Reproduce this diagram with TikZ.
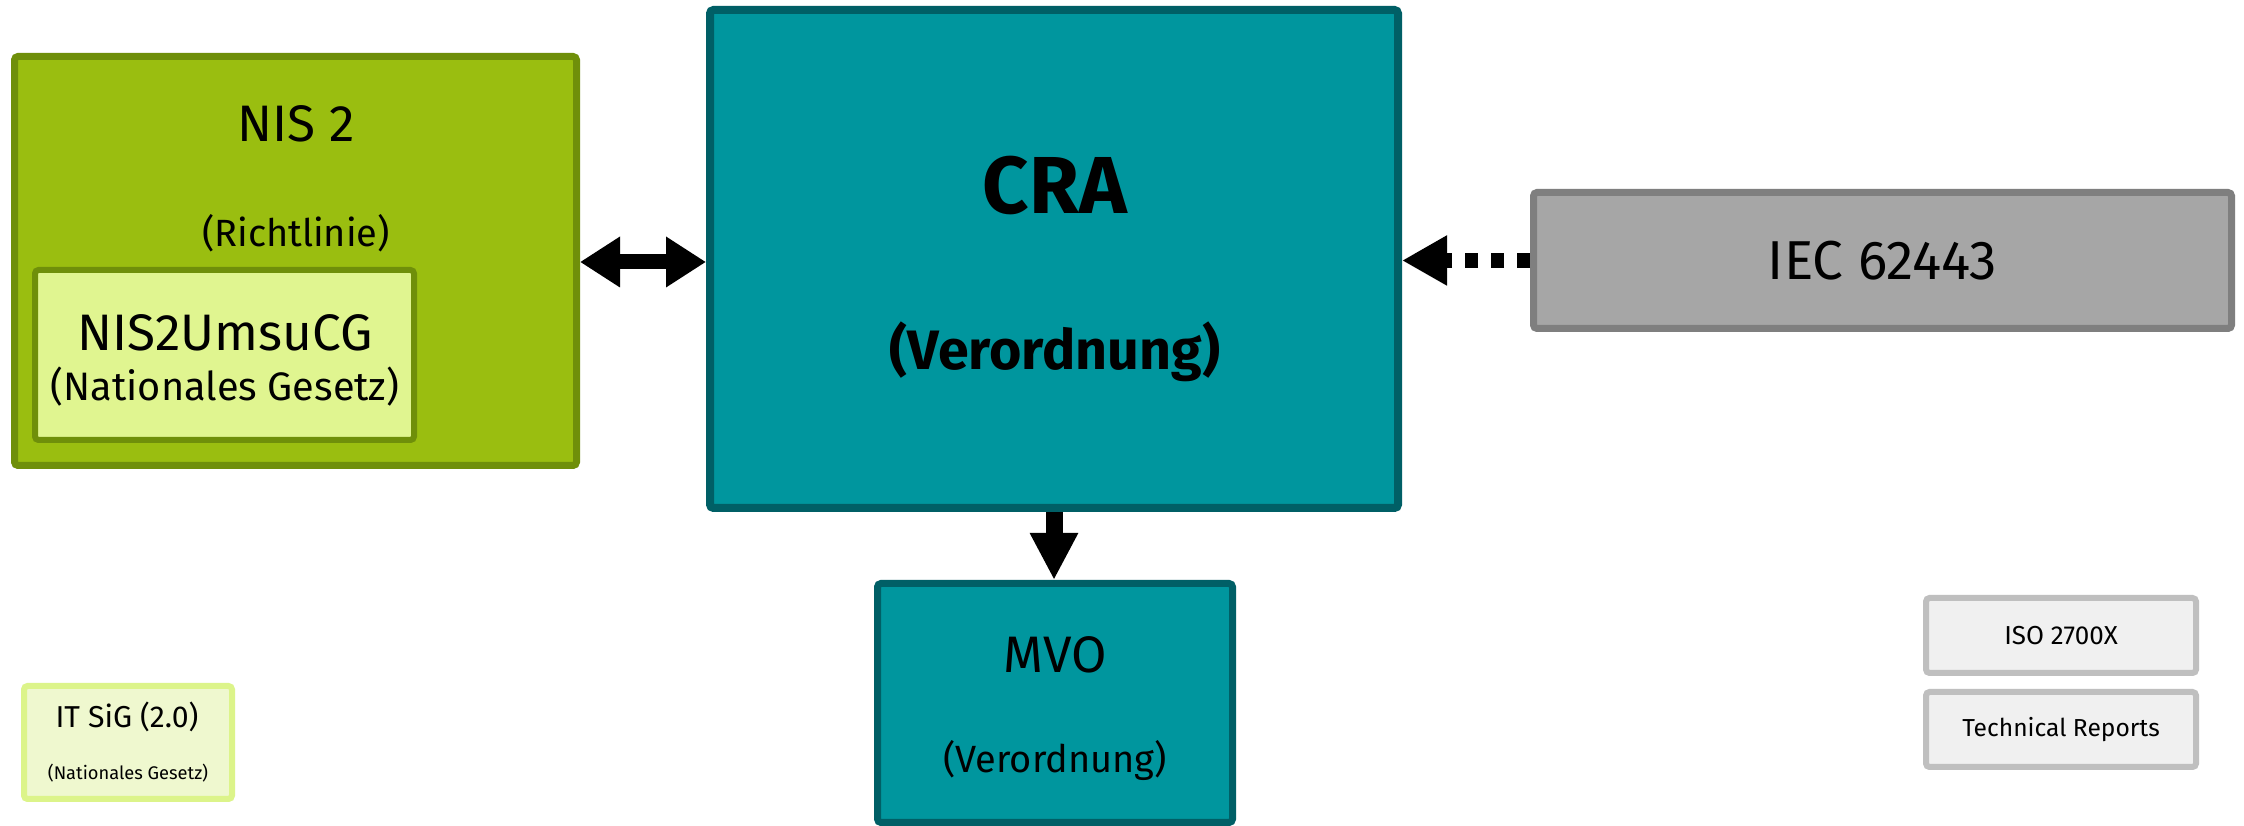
\documentclass[tikz,border=0pt]{standalone}
\usepackage{fontspec}
\setmainfont{Fira Sans}
\usetikzlibrary{arrows.meta}
\definecolor{nisgreen}{HTML}{9ABE10}
\definecolor{nisdark}{HTML}{6F8F0A}
\definecolor{umsufill}{HTML}{E0F590}
\definecolor{crateal}{HTML}{00969E}
\definecolor{cradark}{HTML}{005F66}
\definecolor{iecgray}{HTML}{A6A6A6}
\definecolor{iecdark}{HTML}{7F7F7F}
\definecolor{sigfill}{HTML}{EFF8CF}
\definecolor{sigline}{HTML}{DCF48A}
\definecolor{isofill}{HTML}{F0F0F0}
\definecolor{isoline}{HTML}{BFBFBF}
\tikzset{
  box/.style={draw,rounded corners=1pt,inner sep=0pt},
  tbig/.style={font=\fontsize{14.6}{17}\selectfont},
  tmid/.style={font=\fontsize{10.8}{13}\selectfont},
  tsmall/.style={font=\fontsize{7.4}{9}\selectfont},
  ttiny/.style={font=\fontsize{5.2}{6}\selectfont},
  tcra/.style={font=\bfseries\fontsize{23}{27}\selectfont},
  tcrasub/.style={font=\bfseries\fontsize{15.8}{19}\selectfont},
  biarrow/.style={line width=1.5mm,{Triangle[width=4.8mm,length=4mm]}-{Triangle[width=4.8mm,length=4mm]}},
  refarrow/.style={line width=1.5mm,dash pattern=on 1.3mm off 1.3mm,-{Triangle[width=4.7mm,length=4.5mm]}},
  downarrow/.style={line width=1.7mm,-{Triangle[width=4.5mm,length=4.7mm]}}
}
\begin{document}
\begin{tikzpicture}[x=0.1mm,y=-0.1mm]
\useasboundingbox[fill=white] (0,0) rectangle (2244,826);
% NIS 2 mit nationaler Umsetzung
\node[box,fill=nisgreen,draw=nisdark,line width=0.7mm,minimum width=56.2mm,minimum height=40.9mm] (nis) at (295.5,261) {};
\node[tbig] (nistitle) at (296,124) {NIS 2};
\node[tmid] (nissub) at (296,233) {(Richtlinie)};
\node[box,fill=umsufill,draw=nisdark,line width=0.6mm,minimum width=37.9mm,minimum height=17mm] (umsu) at (224.5,355) {};
\node[tbig] (umsutitle) at (225,333) {NIS2UmsuCG};
\node[tmid,font=\fontsize{11.3}{13}\selectfont] (umsusub) at (225,387) {(Nationales Gesetz)};
% CRA
\node[box,fill=crateal,draw=cradark,line width=0.8mm,minimum width=68.8mm,minimum height=49.8mm] (cra) at (1054,259) {};
\node[tcra] (cratitle) at (1055,186) {CRA};
\node[tcrasub] (crasub) at (1055,352) {(Verordnung)};
% Normen
\node[box,fill=iecgray,draw=iecdark,line width=0.7mm,minimum width=69.8mm,minimum height=13.6mm,font=\fontsize{15.6}{18}\selectfont] (iec) at (1882.5,260.5) {IEC 62443};
% MVO
\node[box,fill=crateal,draw=cradark,line width=0.7mm,minimum width=35.5mm,minimum height=23.9mm] (mvo) at (1055,703) {};
\node[tbig] (mvotitle) at (1055,655) {MVO};
\node[tmid] (mvosub) at (1055,761) {(Verordnung)};
% IT SiG
\node[box,fill=sigfill,draw=sigline,line width=0.6mm,minimum width=20.8mm,minimum height=11.3mm] (itsig) at (128,742.5) {};
\node[tsmall,font=\fontsize{8.6}{10}\selectfont] (itsigtitle) at (127,717) {IT SiG (2.0)};
\node[ttiny] (itsigsub) at (128,773) {(Nationales Gesetz)};
% ISO / TR
\node[box,fill=isofill,draw=isoline,line width=0.6mm,minimum width=27mm,minimum height=7.5mm,tsmall] (iso) at (2061,635.5) {ISO 2700X};
\node[box,fill=isofill,draw=isoline,line width=0.6mm,minimum width=27mm,minimum height=7.5mm,font=\fontsize{7}{9}\selectfont] (techrep) at (2061,729.5) {Technical Reports};
% Verbindungen
\draw[biarrow] (nis.east |- 0,262) -- (cra.west |- 0,262);
\draw[refarrow] (iec.west) -- (iec.west -| cra.east);
\draw[downarrow] (cra.south) -- (cra.south |- mvo.north);
\end{tikzpicture}
\end{document}
